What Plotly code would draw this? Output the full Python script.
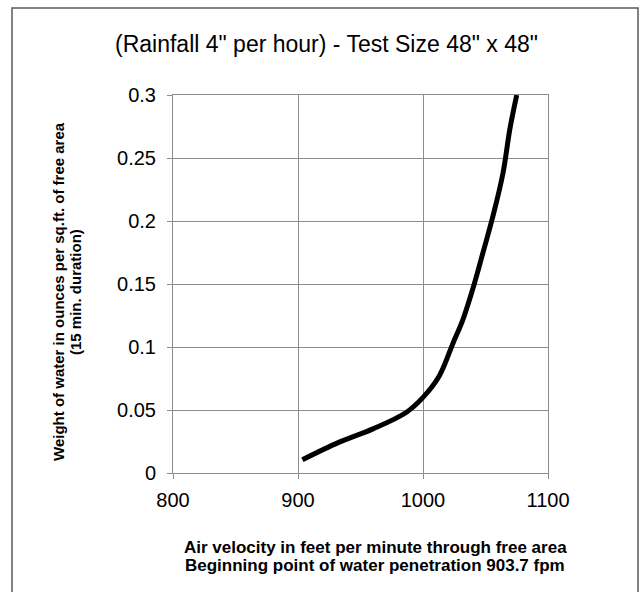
import plotly.graph_objects as go

velocity = [903.5, 933, 960, 986.5, 1000, 1013, 1024, 1032, 1041, 1048, 1056, 1064, 1069.5, 1075]
weight = [0.0105, 0.0245, 0.035, 0.048, 0.060, 0.077, 0.103, 0.122, 0.150, 0.175, 0.204, 0.238, 0.273, 0.300]

x_ticks = [800, 900, 1000, 1100]
y_ticks = [0, 0.05, 0.1, 0.15, 0.2, 0.25, 0.3]
y_tick_labels = ["0", "0.05", "0.1", "0.15", "0.2", "0.25", "0.3"]

title = '(Rainfall 4" per hour) - Test Size 48" x 48"'
x_title_lines = ["Air velocity in feet per minute through free area",
                 "Beginning point of water penetration 903.7 fpm"]
y_title_lines = ["Weight of water in ounces per sq.ft. of free area",
                 "(15 min. duration)"]

font = "Liberation Sans, Arial, sans-serif"
grid = "#8c8c8c"

fig = go.Figure()
fig.add_trace(go.Scatter(
    x=velocity, y=weight, mode="lines",
    line=dict(color="black", width=5, shape="spline", smoothing=1.0),
    showlegend=False, hoverinfo="skip",
))

axis_common = dict(
    showgrid=True, gridcolor=grid, gridwidth=1,
    showline=True, linecolor=grid, linewidth=1, mirror=True,
    ticks="outside", ticklen=5, tickcolor=grid,
    tickfont=dict(size=20, family=font, color="black"),
    zeroline=False, fixedrange=True,
)

annotations = [
    dict(text=title, xref="paper", yref="paper", x=(326 - 173) / 375, y=(473 - 44) / 378,
         xanchor="center", yanchor="middle", showarrow=False,
         font=dict(size=23, family=font, color="black")),
    dict(text="<b>" + x_title_lines[0] + "</b>", xref="paper", yref="paper",
         x=(375 - 173) / 375, y=(473 - 547) / 378, xanchor="center", yanchor="middle",
         showarrow=False, font=dict(size=17, family=font, color="black")),
    dict(text="<b>" + x_title_lines[1] + "</b>", xref="paper", yref="paper",
         x=(375 - 173) / 375, y=(473 - 565) / 378, xanchor="center", yanchor="middle",
         showarrow=False, font=dict(size=17, family=font, color="black")),
    dict(text="<b>" + y_title_lines[0] + "</b>", xref="paper", yref="paper",
         x=(58 - 173) / 375, y=(473 - 292) / 378, xanchor="center", yanchor="middle",
         textangle=-90, showarrow=False, font=dict(size=15, family=font, color="black")),
    dict(text="<b>" + y_title_lines[1] + "</b>", xref="paper", yref="paper",
         x=(75 - 173) / 375, y=(473 - 292) / 378, xanchor="center", yanchor="middle",
         textangle=-90, showarrow=False, font=dict(size=15, family=font, color="black")),
]

fig.update_layout(
    width=644, height=592,
    margin=dict(l=173, r=96, t=95, b=119),
    paper_bgcolor="white", plot_bgcolor="white",
    font=dict(family=font, color="black"),
    xaxis=dict(range=[800, 1100], tickvals=x_ticks, ticktext=[str(v) for v in x_ticks],
               ticklabelstandoff=4, **axis_common),
    yaxis=dict(range=[0, 0.3], tickvals=y_ticks, ticktext=y_tick_labels,
               ticklabelstandoff=7, **axis_common),
    annotations=annotations,
    shapes=[dict(
        type="rect", xref="paper", yref="paper",
        x0=(12 - 173) / 375, x1=(638 - 173) / 375, y0=(473 - 600) / 378, y1=(473 - 8) / 378,
        line=dict(color="#595959", width=1.5), fillcolor="rgba(0,0,0,0)", layer="below",
    )],
)

fig.write_html("out.html", config={"displayModeBar": False},
               post_script="document.body.style.margin='0px';")
